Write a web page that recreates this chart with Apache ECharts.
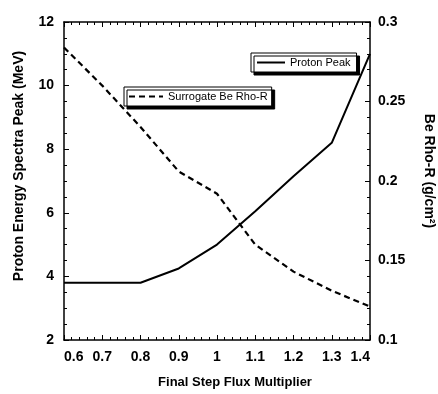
<!DOCTYPE html>
<html>
<head>
<meta charset="utf-8">
<script src="https://cdn.jsdelivr.net/npm/echarts@6/dist/echarts.min.js"></script>
<style>
  html, body { margin: 0; padding: 0; background: #fff; }
  #chart { width: 438px; height: 394px; }
</style>
</head>
<body>
<div id="chart"></div>
<script>
// values
var fluxMultiplier = [0.6, 0.7, 0.8, 0.9, 1.0, 1.1, 1.2, 1.3, 1.4]
var protonPeak = [3.8, 3.8, 3.8, 4.25, 5.0, 6.05, 7.15, 8.2, 11.0]
var beRhoR = [0.284, 0.26, 0.234, 0.206, 0.192, 0.16, 0.143, 0.131, 0.121]

function pairs(xs, ys) {
  return xs.map(function (x, i) { return [x, ys[i]] })
}

var font = 'Liberation Sans, Arial, sans-serif'
var myChart = echarts.init(document.getElementById('chart'))

var axisBase = {
  axisLine: { show: true, onZero: false, lineStyle: { color: '#000', width: 1.5 } },
  axisTick: { show: true, inside: true, length: 5, lineStyle: { color: '#000', width: 1 } },
  minorTick: { show: true, length: 3, lineStyle: { color: '#000', width: 1 } },
  splitLine: { show: false },
  axisLabel: { color: '#000', fontWeight: 'bold', fontSize: 14, fontFamily: font }
}

var legendBase = {
  orient: 'horizontal',
  itemHeight: 10,
  backgroundColor: '#fff',
  borderColor: '#000', borderWidth: 1,
  shadowColor: '#000', shadowOffsetX: 3, shadowOffsetY: 3, shadowBlur: 0,
  itemStyle: { opacity: 0 },
  textStyle: { color: '#000', fontSize: 11, fontFamily: font }
}

var option = {
  backgroundColor: '#fff',
  animation: false,
  grid: { left: 64, right: 68, top: 22, bottom: 54, outerBoundsMode: 'none', containLabel: false },
  legend: [
    Object.assign({}, legendBase, {
      data: ['Proton Peak'],
      left: 251, top: 53,
      itemWidth: 28,
      padding: [4, 6, 4, 5]
    }),
    Object.assign({}, legendBase, {
      data: ['Surrogate Be Rho-R'],
      left: 124, top: 87,
      itemWidth: 34,
      padding: [4, 4, 4, 4]
    })
  ],
  xAxis: [
    Object.assign({}, axisBase, {
      type: 'value', min: 0.6, max: 1.4, interval: 0.1,
      minorTick: Object.assign({}, axisBase.minorTick, { splitNumber: 5 }),
      name: 'Final Step Flux Multiplier',
      nameLocation: 'middle', nameGap: 36,
      nameTextStyle: { color: '#000', fontWeight: 'bold', fontSize: 13, fontFamily: font, padding: [0, 0, 0, 36] },
      axisLabel: Object.assign({}, axisBase.axisLabel, {
        margin: 10,
        alignMinLabel: 'left', alignMaxLabel: 'right',
        formatter: function (v) { return String(parseFloat(v.toFixed(1))) }
      })
    }),
    Object.assign({}, axisBase, {
      type: 'value', min: 0.6, max: 1.4, interval: 0.1, position: 'top',
      minorTick: Object.assign({}, axisBase.minorTick, { splitNumber: 5 }),
      axisLabel: { show: false }
    })
  ],
  yAxis: [
    Object.assign({}, axisBase, {
      type: 'value', min: 2, max: 12, interval: 2, position: 'left',
      minorTick: Object.assign({}, axisBase.minorTick, { splitNumber: 4 }),
      name: 'Proton Energy Spectra Peak (MeV)',
      nameLocation: 'middle', nameGap: 38,
      nameTextStyle: { color: '#000', fontWeight: 'bold', fontSize: 14, fontFamily: font, padding: [0, 0, 0, 30] },
      axisLabel: Object.assign({}, axisBase.axisLabel, { margin: 10 })
    }),
    Object.assign({}, axisBase, {
      type: 'value', min: 0.1, max: 0.3, interval: 0.05, position: 'right',
      minorTick: Object.assign({}, axisBase.minorTick, { splitNumber: 5 }),
      name: 'Be Rho-R (g/cm²)',
      nameLocation: 'middle', nameGap: 52, nameRotate: -90,
      nameTextStyle: { color: '#000', fontWeight: 'bold', fontSize: 14, fontFamily: font, padding: [0, 20, 0, 0] },
      axisLabel: Object.assign({}, axisBase.axisLabel, { margin: 8 })
    })
  ],
  series: [
    {
      name: 'Proton Peak',
      type: 'line',
      xAxisIndex: 0, yAxisIndex: 0,
      symbol: 'none',
      data: pairs(fluxMultiplier, protonPeak),
      lineStyle: { color: '#000', width: 2 },
      itemStyle: { color: '#000' }
    },
    {
      name: 'Surrogate Be Rho-R',
      type: 'line',
      xAxisIndex: 0, yAxisIndex: 1,
      symbol: 'none',
      data: pairs(fluxMultiplier, beRhoR),
      lineStyle: { color: '#000', width: 2.2, type: [6, 4] },
      itemStyle: { color: '#000' }
    }
  ]
}
myChart.setOption(option)
window.onresize = myChart.resize
</script>
</body>
</html>
